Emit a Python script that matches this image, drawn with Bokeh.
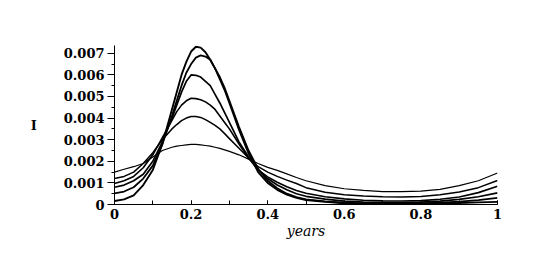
from bokeh.plotting import figure
from bokeh.models import Range1d, FixedTicker
from bokeh.embed import file_html
from bokeh.resources import INLINE

# x positions (years)
years = [0, 0.025, 0.05, 0.075, 0.1, 0.125, 0.15, 0.1625, 0.175, 0.1875, 0.2, 0.2125, 0.225,
         0.2375, 0.25, 0.2625, 0.275, 0.2875, 0.3, 0.325, 0.35, 0.375, 0.4, 0.425, 0.45, 0.475, 0.5,
         0.55, 0.6, 0.65, 0.7, 0.75, 0.8, 0.85, 0.9, 0.95, 1.0]

I1 = [0.0015, 0.00163, 0.00175, 0.0019, 0.0022, 0.0025, 0.00265, 0.0027, 0.00273, 0.00276, 0.00278, 0.00278, 0.00276,
      0.00273, 0.0027, 0.00265, 0.0026, 0.00253, 0.00246, 0.0023, 0.0021, 0.0019, 0.00172, 0.00158, 0.00142, 0.00125, 0.0011,
      0.00087, 0.00073, 0.00065, 0.0006, 0.0006, 0.00062, 0.0007, 0.00087, 0.0011, 0.00146]
I2 = [0.0012, 0.0013, 0.0015, 0.0019, 0.0024, 0.003, 0.0035, 0.0037, 0.00388, 0.004, 0.00407, 0.00407, 0.00403,
      0.00393, 0.0038, 0.00366, 0.0035, 0.00328, 0.00305, 0.0026, 0.00215, 0.00175, 0.0015, 0.0013, 0.00113, 0.00097, 0.00078,
      0.00057, 0.00045, 0.00039, 0.00036, 0.00035, 0.00037, 0.00045, 0.00058, 0.00078, 0.00111]
I3 = [0.00097, 0.0011, 0.0013, 0.0017, 0.0023, 0.0031, 0.0039, 0.0043, 0.0046, 0.0048, 0.00492, 0.0049, 0.00485,
      0.00475, 0.0046, 0.0044, 0.0041, 0.0038, 0.0035, 0.0028, 0.00215, 0.0016, 0.00128, 0.00103, 0.00082, 0.00065, 0.00052,
      0.00036, 0.00026, 0.0002, 0.00017, 0.00016, 0.00018, 0.00024, 0.00035, 0.00055, 0.00085]
I4 = [0.0008, 0.0009, 0.0011, 0.0014, 0.002, 0.0029, 0.004, 0.0046, 0.0052, 0.0057, 0.006, 0.00598, 0.0059,
      0.0057, 0.0055, 0.0051, 0.0047, 0.00425, 0.0038, 0.0029, 0.0022, 0.0016, 0.0012, 0.0009, 0.00068, 0.0005, 0.00038,
      0.00025, 0.00016, 0.00011, 0.00009, 0.00009, 0.00011, 0.00016, 0.00024, 0.00036, 0.00054]
I5 = [0.00052, 0.0006, 0.0008, 0.0012, 0.0018, 0.0028, 0.0041, 0.0048, 0.0055, 0.0061, 0.0065, 0.0068, 0.0069,
      0.00685, 0.0067, 0.0063, 0.0059, 0.0054, 0.0048, 0.0036, 0.0025, 0.00165, 0.0011, 0.00075, 0.0005, 0.00034, 0.00024,
      0.00014, 0.00008, 0.00005, 0.00004, 0.00004, 0.00005, 0.00008, 0.00013, 0.0002, 0.00031]
I6 = [0.00016, 0.00024, 0.00042, 0.0009, 0.0016, 0.0028, 0.0044, 0.0052, 0.006, 0.0066, 0.00708, 0.0073, 0.00726,
      0.00705, 0.0067, 0.0063, 0.0058, 0.0053, 0.0047, 0.00346, 0.00237, 0.0015, 0.001, 0.00068, 0.00046, 0.00031, 0.00021,
      0.00012, 0.00006, 0.00003, 0.00002, 0.00002, 0.00003, 0.00005, 0.00007, 0.0001, 0.00012]

series = [I1, I2, I3, I4, I5, I6]
widths = [1.2, 1.5, 1.6, 1.7, 1.8, 1.9]

x_ticks = [0, 0.2, 0.4, 0.6, 0.8, 1.0]
x_tick_labels = ["0", "0.2", "0.4", "0.6", "0.8", "1"]
y_ticks = [0, 0.001, 0.002, 0.003, 0.004, 0.005, 0.006, 0.007]
y_tick_labels = ["0", "0.001", "0.002", "0.003", "0.004", "0.005", "0.006", "0.007"]

FONT = "DejaVu Serif"

p = figure(width=530, height=257, output_backend="svg", toolbar_location=None,
           x_range=Range1d(0, 1), y_range=Range1d(0, 0.00736),
           min_border_left=114, min_border_right=33, min_border_top=45, min_border_bottom=53)
p.outline_line_color = None
p.grid.grid_line_color = None
p.background_fill_color = "white"

for ys, w in zip(series, widths):
    p.line(years, ys, line_color="black", line_width=w, line_join="round")

# x axis
xa = p.xaxis[0]
xa.ticker = FixedTicker(ticks=x_ticks, minor_ticks=[i / 10 for i in range(11)])
xa.major_label_overrides = {t: l for t, l in zip(x_ticks, x_tick_labels)}
xa.major_tick_in = 4
xa.major_tick_out = 0
xa.minor_tick_in = 4
xa.minor_tick_out = 0
xa.major_label_standoff = 4
xa.major_label_text_font = FONT
xa.major_label_text_font_style = "bold"
xa.major_label_text_font_size = "13px"
xa.major_label_text_color = "black"
xa.axis_label = "years"
xa.axis_label_text_font = FONT
xa.axis_label_text_font_style = "italic"
xa.axis_label_text_font_size = "14px"
xa.axis_label_text_color = "black"
xa.axis_label_standoff = 1
xa.axis_line_color = "black"

# y axis
ya = p.yaxis[0]
ya.ticker = FixedTicker(ticks=y_ticks, minor_ticks=[i * 0.0005 for i in range(15)])
ya.major_label_overrides = {t: l for t, l in zip(y_ticks, y_tick_labels)}
ya.major_label_text_font = FONT
ya.major_label_text_font_style = "bold"
ya.major_label_text_font_size = "13px"
ya.major_label_text_color = "black"
ya.major_label_standoff = 3
ya.major_tick_in = 0
ya.major_tick_out = 7
ya.minor_tick_in = 0
ya.minor_tick_out = 3
ya.axis_line_color = "black"
ya.axis_label = "I"
ya.axis_label_orientation = "horizontal"
ya.axis_label_text_font = FONT
ya.axis_label_text_font_style = "bold"
ya.axis_label_text_font_size = "13px"
ya.axis_label_text_color = "black"
ya.axis_label_standoff = 24

open("out.html", "w").write(file_html(p, INLINE))
